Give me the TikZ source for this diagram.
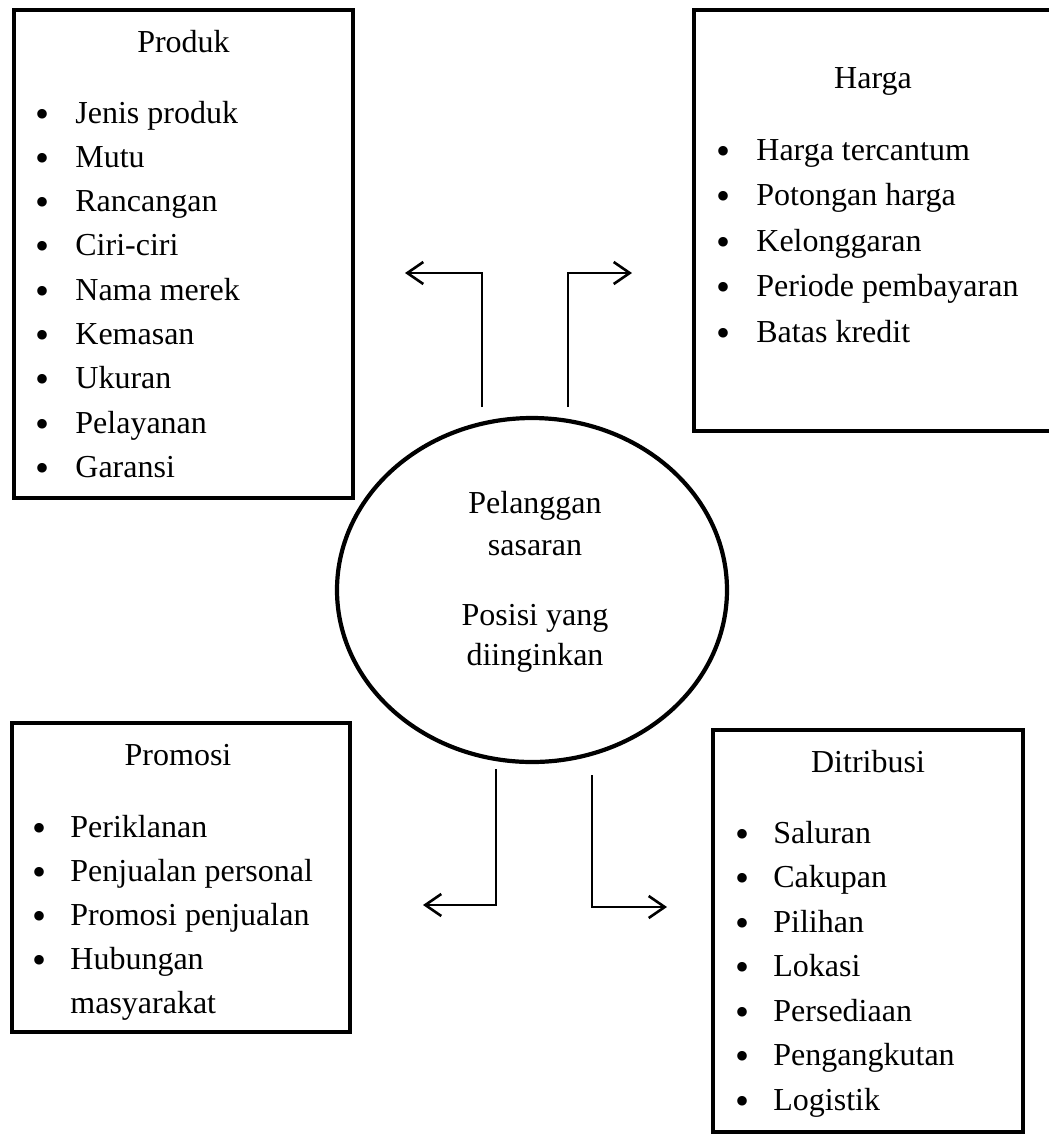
\documentclass[tikz,border=0pt]{standalone}
\usepackage{fontspec}
\setmainfont{Liberation Serif}
\usetikzlibrary{arrows.meta,shapes.geometric,positioning}

\tikzset{
  kotak/.style={draw, line width=2.4pt, inner sep=0pt},
  bulat/.style={draw, ellipse, line width=2.1pt, inner sep=0pt},
  judul/.style={anchor=base, inner sep=0pt},
  titik/.style={anchor=base, inner sep=0pt, font=\fontsize{20}{20}\selectfont},
  butir/.style={anchor=base west, inner sep=0pt},
  panah/.style={->, line width=1.3pt},
}

\begin{document}
\begin{tikzpicture}[x=0.5pt, y=-0.5pt, font=\fontsize{16}{20}\selectfont,
  >={Straight Barb[length=8pt,width=11pt]}]
\useasboundingbox (0,0) rectangle (1049,1137);

% kotak dan lingkaran
\node[kotak, minimum width=169.5pt, minimum height=244pt] (produk) at (183.5,254) {};
\node[kotak, minimum width=180pt, minimum height=210.5pt] (harga) at (874,220.5) {};
\node[kotak, minimum width=169pt, minimum height=154.5pt] (promosi) at (181,877.5) {};
\node[kotak, minimum width=155pt, minimum height=201pt] (distribusi) at (868,931) {};
\node[bulat, minimum width=195pt, minimum height=172pt] (pusat) at (532,590) {};

% teks tengah
\node[judul] (pusat-1) at (535,513) {Pelanggan};
\node[judul] (pusat-2) at (535,555) {sasaran};
\node[judul] (pusat-3) at (535,625) {Posisi yang};
\node[judul] (pusat-4) at (535,665) {diinginkan};

% produk
\node[judul] (produk-judul) at (183.5,52) {Produk};
\foreach \isi [count=\i] in {Jenis produk, Mutu, Rancangan, Ciri-ciri, Nama merek,
    Kemasan, Ukuran, Pelayanan, Garansi} {
  \node[titik] (produk-t\i) at (43,{127+44.3*(\i-1)}) {\textbullet};
  \node[butir] (produk-\i) at (75,{123+44.3*(\i-1)}) {\isi};
}

% harga
\node[judul] (harga-judul) at (873,88) {Harga};
\foreach \isi [count=\i] in {Harga tercantum, Potongan harga, Kelonggaran,
    Periode pembayaran, Batas kredit} {
  \node[titik] (harga-t\i) at (723,{164+45.5*(\i-1)}) {\textbullet};
  \node[butir] (harga-\i) at (756,{160+45.5*(\i-1)}) {\isi};
}

% promosi
\node[judul] (promosi-judul) at (178,765) {Promosi};
\foreach \isi [count=\i] in {Periklanan, Penjualan personal, Promosi penjualan, Hubungan} {
  \node[titik] (promosi-t\i) at (40,{841+44*(\i-1)}) {\textbullet};
  \node[butir] (promosi-\i) at (70,{837+44*(\i-1)}) {\isi};
}
\node[butir] (promosi-5) at (70,1013) {masyarakat};

% distribusi
\node[judul] (distribusi-judul) at (868,772) {Ditribusi};
\foreach \isi [count=\i] in {Saluran, Cakupan, Pilihan, Lokasi, Persediaan,
    Pengangkutan, Logistik} {
  \node[titik] (distribusi-t\i) at (742,{847+44.5*(\i-1)}) {\textbullet};
  \node[butir] (distribusi-\i) at (773,{843+44.5*(\i-1)}) {\isi};
}

% panah
\coordinate (pa-kiri) at (482,407);
\coordinate (ke-produk) at (405,273);
\coordinate (pa-kanan) at (568,407);
\coordinate (ke-harga) at (632,273);
\coordinate (pb-kiri) at (496,769);
\coordinate (ke-promosi) at (423,905);
\coordinate (pb-kanan) at (592,775);
\coordinate (ke-distribusi) at (667,907);
\draw[panah] (pa-kiri) |- (ke-produk);
\draw[panah] (pa-kanan) |- (ke-harga);
\draw[panah] (pb-kiri) |- (ke-promosi);
\draw[panah] (pb-kanan) |- (ke-distribusi);

\end{tikzpicture}
\end{document}
